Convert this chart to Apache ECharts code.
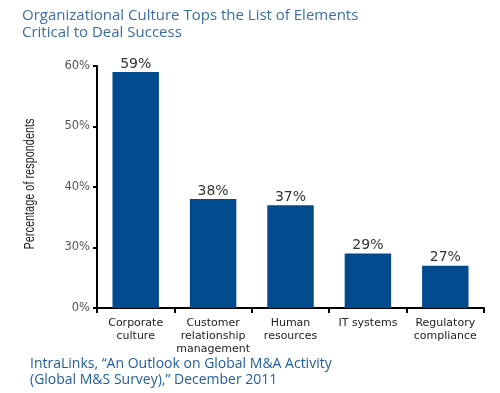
<!DOCTYPE html>
<html><head><meta charset="utf-8">
<script src="https://cdn.jsdelivr.net/npm/echarts@6/dist/echarts.min.js"></script>
<style>html,body{margin:0;padding:0;background:#fff}#c{width:500px;height:393px}</style>
</head><body><div id="c"></div>
<script>
const categories = ["Corporate\nculture", "Customer\nrelationship\nmanagement", "Human\nresources", "IT systems", "Regulatory\ncompliance"];
const values = [59, 38, 37, 29, 27];
const yTicks = [20, 30, 40, 50, 60];
const yTickLabels = ["0%", "30%", "40%", "50%", "60%"];
const yAxisTitle = 'Percentage of respondents';

const chart = echarts.init(document.getElementById('c'), null, {renderer: 'canvas'});
chart.setOption({
  animation: false,
  title: [
    {text: 'Organizational Culture Tops the List of Elements\nCritical to Deal Success', left: 17, top: 2,
     textStyle: {fontFamily: 'Open Sans', fontSize: 15, fontWeight: 'normal', color: '#3A6EA5', lineHeight: 17}},
    {text: 'IntraLinks, \u201cAn Outlook on Global M&A Activity\n(Global M&S Survey),\u201d December 2011', left: 25, top: 351,
     textStyle: {fontFamily: 'Open Sans', fontSize: 14, fontWeight: 'normal', color: '#1F5C99', lineHeight: 16}}
  ],
  graphic: [{
    type: 'text', x: 30, y: 184, rotation: Math.PI / 2, scaleX: 0.78,
    style: {text: yAxisTitle, fontFamily: 'Liberation Sans', fontSize: 14, fill: '#222',
            textAlign: 'center', textVerticalAlign: 'middle'}
  }],
  grid: {left: 97, right: 16, top: 66, bottom: 85, containLabel: false},
  xAxis: {
    type: 'category', data: categories,
    axisLine: {lineStyle: {color: '#000', width: 2}},
    axisTick: {show: true, length: 5, lineStyle: {color: '#000', width: 2}},
    axisLabel: {fontFamily: 'DejaVu Sans', fontSize: 11, color: '#222', lineHeight: 13, margin: 9, interval: 0}
  },
  yAxis: {
    type: 'value', min: 20, max: 60, interval: 10,
    axisLine: {show: true, lineStyle: {color: '#000', width: 2}},
    axisTick: {show: true, length: 4, lineStyle: {color: '#000', width: 2}},
    splitLine: {show: false},
    axisLabel: {fontFamily: 'DejaVu Sans', fontSize: 11.5, color: '#555', margin: 7,
      formatter: v => yTickLabels[yTicks.indexOf(v)]}
  },
  series: [{
    type: 'bar', data: values, barWidth: '60%',
    itemStyle: {color: '#004A8D'},
    label: {show: true, position: 'top', formatter: p => p.value + '%', fontFamily: 'DejaVu Sans', fontSize: 14, color: '#333', distance: 1}
  }]
});
</script></body></html>
